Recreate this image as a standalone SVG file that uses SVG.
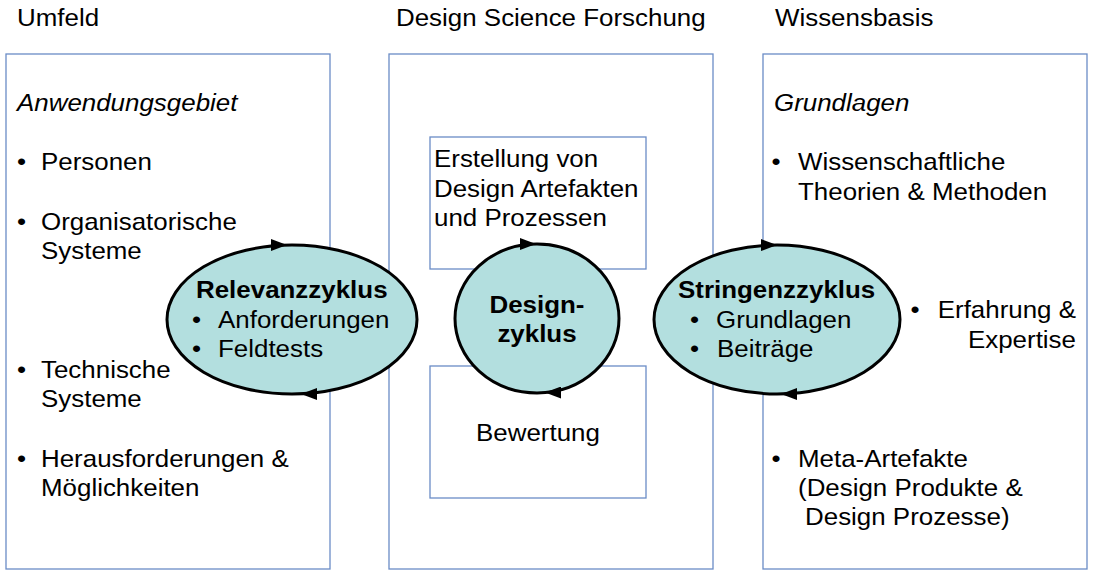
<svg xmlns="http://www.w3.org/2000/svg" width="1094" height="573" viewBox="0 0 1094 573">
<style>
.box{fill:#ffffff;stroke:#6a8cc6;stroke-width:1.3}
.cyc{fill:#b3dfdf;stroke:#000000;stroke-width:3}
.t{font-family:"Liberation Sans",Arial,sans-serif;font-size:24px;fill:#000000}
.i{font-style:italic}
.b{font-weight:bold}
.m{text-anchor:middle}
.e{text-anchor:end}
.arr{fill:none;stroke:none}
</style>
<defs>
<marker id="ah" viewBox="0 0 16 12" refX="16" refY="6" markerWidth="16" markerHeight="12" markerUnits="userSpaceOnUse" orient="auto">
<path d="M0,0 L16,6 L0,12 Z" fill="#000000"/>
</marker>
</defs>
<rect width="1094" height="573" fill="#ffffff"/>

<g id="umfeld">
<rect class="box" x="6" y="54" width="324" height="515"/>
<g class="t" transform="scale(1.08 1)">
<text x="15.74" y="26">Umfeld</text>
<text class="i" x="15.74" y="111">Anwendungsgebiet</text>
<text x="15.74" y="170">•</text><text x="37.96" y="170">Personen</text>
<text x="15.74" y="230">•</text><text x="37.96" y="230">Organisatorische</text>
<text x="37.96" y="259">Systeme</text>
<text x="15.74" y="378">•</text><text x="37.96" y="378">Technische</text>
<text x="37.96" y="407">Systeme</text>
<text x="15.74" y="467">•</text><text x="37.96" y="467">Herausforderungen &amp;</text>
<text x="37.96" y="496">Möglichkeiten</text>
</g>
</g>

<g id="forschung">
<rect class="box" x="389" y="54" width="324" height="515"/>
<text class="t" transform="scale(1.08 1)" x="366.67" y="26">Design Science Forschung</text>
</g>

<g id="erstellung">
<rect class="box" x="430" y="137" width="216" height="132"/>
<g class="t" transform="scale(1.08 1)">
<text x="401.85" y="167">Erstellung von</text>
<text x="401.85" y="197">Design Artefakten</text>
<text x="401.85" y="226">und Prozessen</text>
</g>
</g>

<g id="bewertung">
<rect class="box" x="430" y="366" width="216" height="132"/>
<text class="t m" transform="scale(1.08 1)" x="498.15" y="441">Bewertung</text>
</g>

<g id="wissensbasis">
<rect class="box" x="763" y="54" width="324" height="515"/>
<g class="t" transform="scale(1.08 1)">
<text x="717.59" y="26">Wissensbasis</text>
<text class="i" x="716.67" y="111">Grundlagen</text>
<text x="714.4" y="170">•</text><text x="738.9" y="170">Wissenschaftliche</text>
<text x="738.9" y="200">Theorien &amp; Methoden</text>
<text x="843" y="318">•</text><text class="e" x="996.3" y="318">Erfahrung &amp;</text>
<text class="e" x="996.3" y="348">Expertise</text>
<text x="714.4" y="467">•</text><text x="738.9" y="467">Meta-Artefakte</text>
<text x="738.9" y="496">(Design Produkte &amp;</text>
<text x="745.4" y="525">Design Prozesse)</text>
</g>
</g>

<g id="relevanzzyklus">
<ellipse class="cyc" cx="292" cy="319.5" rx="125" ry="74.5"/>
<g class="t" transform="scale(1.08 1)">
<text class="b" x="181.48" y="298">Relevanzzyklus</text>
<text x="177.8" y="328">•</text><text x="201.85" y="328">Anforderungen</text>
<text x="177.8" y="357">•</text><text x="201.85" y="357">Feldtests</text>
</g>
</g>

<g id="designzyklus">
<ellipse class="cyc" cx="537" cy="318.5" rx="82" ry="74.5"/>
<g class="t b m" transform="scale(1.08 1)">
<text x="497.22" y="313">Design-</text>
<text x="497.22" y="342">zyklus</text>
</g>
</g>

<g id="stringenzzyklus">
<ellipse class="cyc" cx="777" cy="319.5" rx="123" ry="74.5"/>
<g class="t" transform="scale(1.08 1)">
<text class="b" x="627.78" y="298">Stringenzzyklus</text>
<text x="638.9" y="328">•</text><text x="662.96" y="328">Grundlagen</text>
<text x="638.9" y="357">•</text><text x="663.9" y="357">Beiträge</text>
</g>
</g>

<g id="connectors">
<path class="arr" d="M268,245 L287,245" marker-end="url(#ah)"/>
<path class="arr" d="M318,394 L301,394" marker-end="url(#ah)"/>
<path class="arr" d="M517,244 L536,244" marker-end="url(#ah)"/>
<path class="arr" d="M562,392.5 L545,392.5" marker-end="url(#ah)"/>
<path class="arr" d="M758,245 L777,245" marker-end="url(#ah)"/>
<path class="arr" d="M798,394 L781,394" marker-end="url(#ah)"/>
</g>
</svg>
